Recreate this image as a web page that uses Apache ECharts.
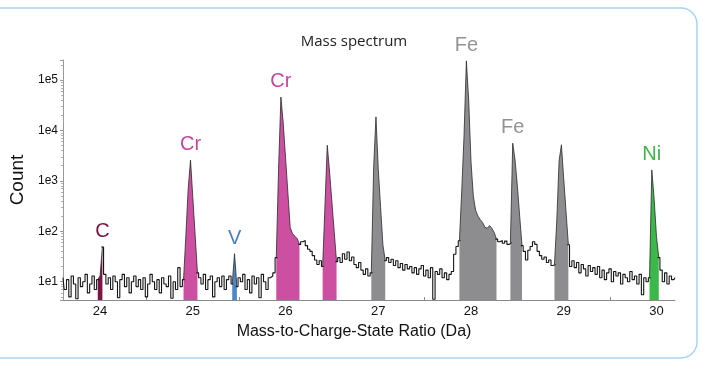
<!DOCTYPE html>
<html>
<head>
<meta charset="utf-8">
<script src="https://cdn.jsdelivr.net/npm/echarts@6/dist/echarts.min.js"></script>
<style>
  html, body { margin: 0; padding: 0; background: #fff; }
  #chart { width: 704px; height: 369px; }
</style>
</head>
<body>
<div id="chart"></div>
<script>
// spectrum sampled every 0.025 Da from 23.6 Da
const xStart = 23.6
const xStep = 0.025
const counts = [
  12, 7, 11, 5, 13, 9, 4.6, 12, 8, 10,
  14, 6, 9, 13, 7, 11, 13, 49, 14, 9,
  12, 7, 13, 10, 4.8, 11, 14, 8, 12, 6,
  10, 13, 8, 11, 7, 12, 5, 9, 14, 10,
  7, 11, 6, 12, 9, 8, 13, 4.7, 10, 7,
  19, 8, 11, 83, 690, 2600, 470, 85, 15, 12,
  9, 14, 7, 11, 13, 5, 10, 12, 8, 13,
  7, 11, 13, 9, 36, 8, 12, 10, 14, 7,
  11, 6, 13, 9, 12, 4.8, 14, 10, 7, 12,
  13, 15, 30, 1800, 46000, 14000, 2900, 590, 120, 90,
  80, 72, 55, 62, 66, 52, 44, 40, 33, 27,
  22, 26, 20, 320, 5100, 1500, 380, 98, 25, 30,
  24, 36, 28, 39, 26, 31, 22, 19, 24, 17,
  14, 18, 13, 15, 1800, 18600, 1700, 300, 54, 26,
  30, 24, 28, 21, 26, 19, 23, 17, 22, 18,
  20, 15, 19, 14, 18, 21, 13, 17, 12, 19,
  4.5, 16, 14, 18, 12, 15, 11, 14, 16, 35,
  50, 65, 630, 8000, 240000, 40000, 2400, 500, 260, 200,
  170, 150, 120, 115, 130, 115, 95, 70, 62, 66,
  58, 64, 55, 60, 5600, 2600, 800, 200, 52, 40,
  27, 42, 50, 62, 55, 40, 33, 28, 31, 24,
  27, 21, 22, 160, 2500, 5200, 1100, 245, 54, 20,
  26, 19, 24, 15, 22, 18, 13, 21, 16, 19,
  14, 20, 12, 17, 11, 15, 18, 10, 16, 13,
  15, 9, 14, 12, 10, 16, 11, 13, 9, 14,
  5.5, 12, 10, 12, 1650, 440, 80, 30, 17, 10,
  15, 9, 13, 11, 12,
]

// filled peak windows (Da) and their element names
const peakFrom = [23.975, 24.9, 25.425, 25.9, 26.4, 26.925, 27.875, 28.425, 28.9, 29.925]
const peakTo = [24.025, 25.05, 25.475, 26.15, 26.55, 27.075, 28.275, 28.55, 29.05, 30.025]
const peakNames = ['C', 'Cr', 'V', 'Cr', '', '', 'Fe', 'Fe', '', 'Ni']
const xLabels = [24, 25, 26, 27, 28, 29, 30]
const yLabels = [10, 100, 1000, 10000, 100000]

const fillColors = ['#7d1446', '#cc4fa2', '#4f86c8', '#cc4fa2', '#cc4fa2', '#8d8d8f', '#8d8d8f', '#8d8d8f', '#8d8d8f', '#3cb84a']
const textColors = ['#781440', '#c4479a', '#4a7ec4', '#c4479a', '#c4479a', '#939393', '#939393', '#939393', '#939393', '#3db447']

const spectrum = counts.map((c, i) => [+(xStart + i * xStep).toFixed(3), c])

const peakPoints = peakFrom.map((from, k) =>
  spectrum.filter((p) => p[0] >= from - 1e-6 && p[0] <= peakTo[k] + 1e-6))

// background trace: histogram-like, broken inside the peak windows
const insidePeak = (x) => peakFrom.some((from, k) => x > from + 1e-6 && x < peakTo[k] - 1e-6)
const background = spectrum.map((p) => (insidePeak(p[0]) ? [p[0], null] : p))

const peakSeries = peakPoints.map((pts, k) => ({
  type: 'line',
  symbol: 'none',
  silent: true,
  z: 2,
  lineStyle: { color: '#2a2a2a', width: 0.8 },
  areaStyle: { color: fillColors[k], opacity: 1, origin: 'start' },
  data: pts,
}))

// element names sit on the tip of their peak
const tipLabels = []
peakPoints.forEach((pts, k) => {
  if (!peakNames[k]) return
  const tip = pts.reduce((a, b) => (b[1] > a[1] ? b : a))
  tipLabels.push({
    value: tip,
    label: { formatter: peakNames[k], color: textColors[k] },
  })
})

const chart = echarts.init(document.getElementById('chart'))
chart.setOption({
  animation: false,
  title: {
    text: 'Mass spectrum',
    left: 349,
    top: 29,
    textAlign: 'center',
    textStyle: { fontSize: 15, fontWeight: 'normal', color: '#222', fontFamily: 'Open Sans' },
  },
  graphic: [
    {
      type: 'rect',
      shape: { x: -20, y: 8, width: 717, height: 350, r: 16 },
      style: { fill: 'none', stroke: '#a6d6ee', lineWidth: 1.5 },
      silent: true,
    },
  ],
  grid: { left: 63, right: 29, top: 60, bottom: 69 },
  xAxis: {
    type: 'value',
    min: 23.6,
    max: 30.2,
    name: 'Mass-to-Charge-State Ratio (Da)',
    nameLocation: 'middle',
    nameGap: 24,
    nameTextStyle: { fontSize: 16, color: '#111', fontFamily: 'Liberation Sans', padding: [0, 30, 0, 0] },
    axisLine: { lineStyle: { color: '#8a8a8a', width: 1 } },
    axisTick: {
      inside: true,
      length: 3,
      lineStyle: { color: '#8a8a8a' },
      customValues: [24, 24.5, 25, 25.5, 26, 26.5, 27, 27.5, 28, 28.5, 29, 29.5, 30],
    },
    axisLabel: {
      customValues: xLabels,
      margin: 5,
      fontSize: 13,
      color: '#111',
      fontFamily: 'Liberation Sans',
    },
    splitLine: { show: false },
  },
  yAxis: {
    type: 'log',
    min: 4.34,
    max: 250000,
    name: 'Count',
    nameLocation: 'middle',
    nameGap: 36,
    nameTextStyle: { fontSize: 19, color: '#111', fontFamily: 'Liberation Sans' },
    axisLine: { show: true, lineStyle: { color: '#9a9a9a', width: 1 } },
    axisTick: { show: true, length: 3, lineStyle: { color: '#9a9a9a' } },
    minorTick: { show: true, splitNumber: 9, length: 2, lineStyle: { color: '#b0b0b0' } },
    axisLabel: {
      margin: 5,
      fontSize: 12,
      color: '#111',
      fontFamily: 'Liberation Sans',
      formatter: (v) => {
        const e = Math.log10(v)
        const n = Math.round(e)
        return Math.abs(e - n) < 1e-6 && yLabels.includes(Math.pow(10, n)) ? '1e' + n : ''
      },
    },
    splitLine: { show: false },
    minorSplitLine: { show: false },
  },
  series: [
    ...peakSeries,
    {
      type: 'line',
      symbol: 'none',
      step: 'middle',
      silent: true,
      z: 3,
      lineStyle: { color: '#151515', width: 1.1 },
      data: background,
    },
    {
      type: 'scatter',
      symbolSize: 1,
      silent: true,
      z: 4,
      itemStyle: { color: 'rgba(0,0,0,0)', opacity: 1 },
      label: {
        show: true,
        position: 'top',
        distance: 5,
        fontSize: 20,
        fontFamily: 'Liberation Sans',
      },
      data: tipLabels,
    },
  ],
})
</script>
</body>
</html>
